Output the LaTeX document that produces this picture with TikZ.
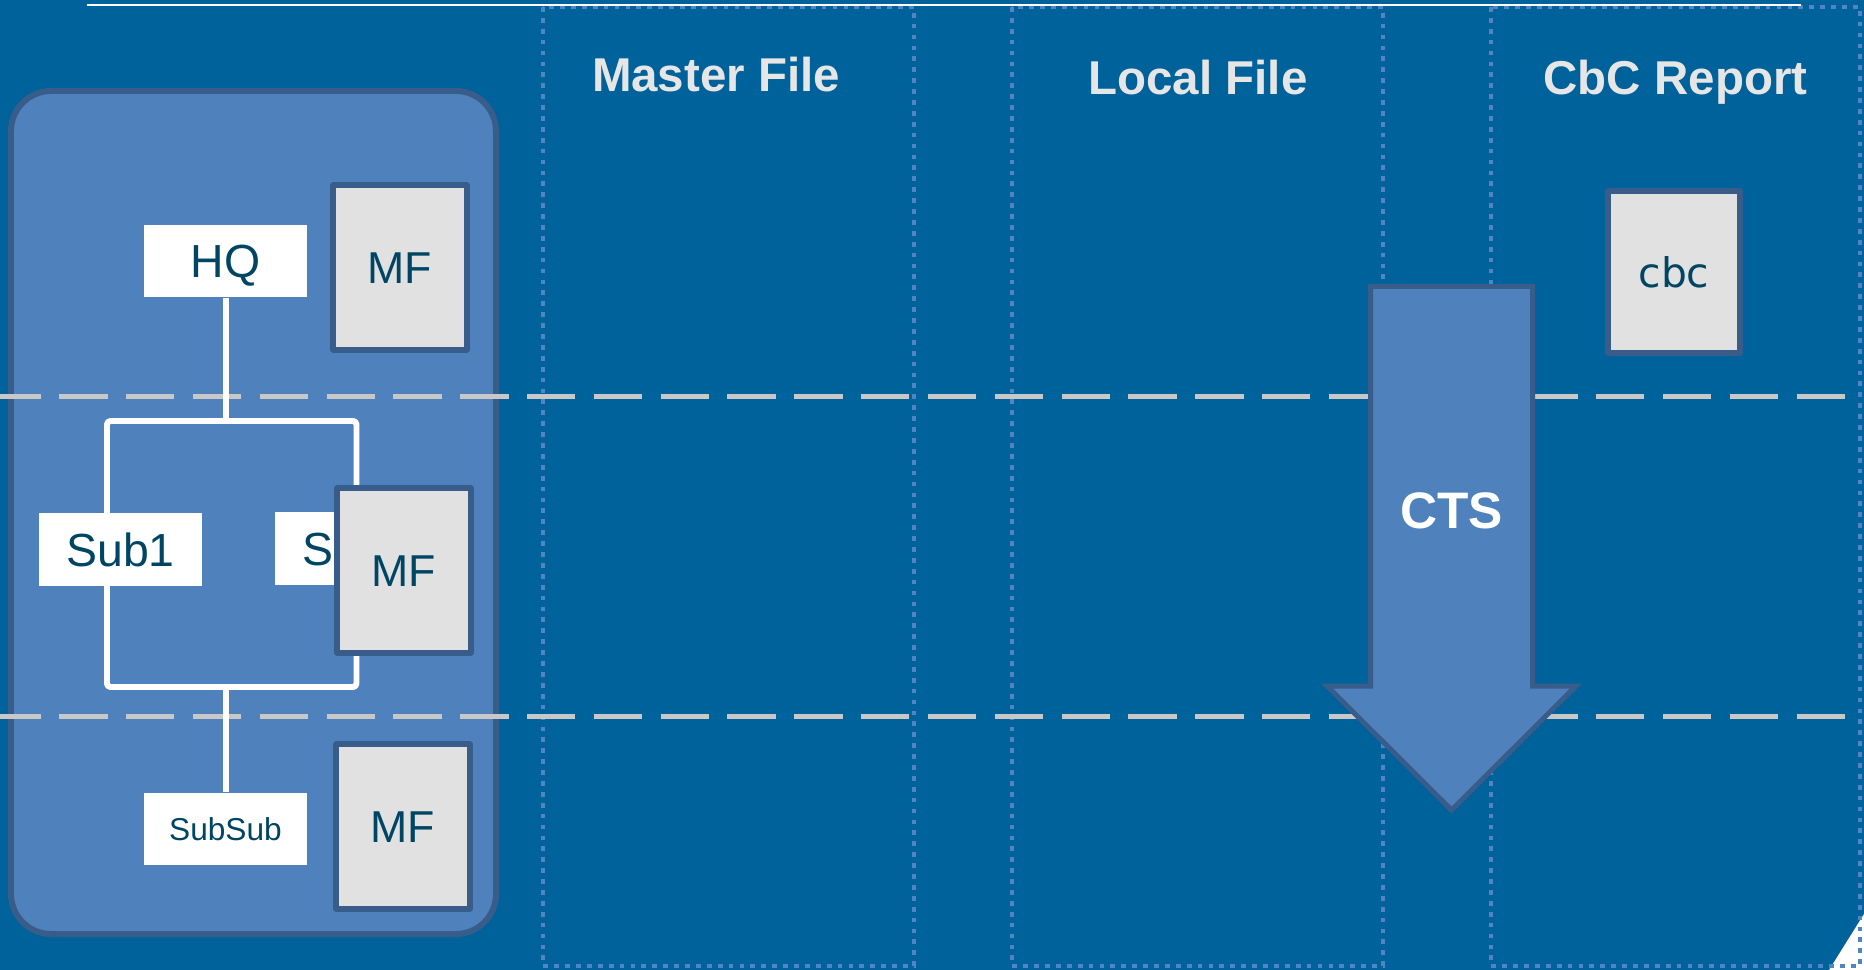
\documentclass[tikz,border=0pt]{standalone}
\usepackage{fontspec}
\setmainfont{Liberation Sans}
\newfontfamily\cbcfont{DejaVu Sans}
\definecolor{bg}{HTML}{00629B}
\definecolor{boxblue}{HTML}{4F81BD}
\definecolor{frame}{HTML}{385D8A}
\definecolor{docgrey}{HTML}{E1E1E1}
\definecolor{ink}{HTML}{004563}
\definecolor{dashgrey}{HTML}{C8C8C8}
\definecolor{dotblue}{HTML}{5283C2}
\definecolor{hdrgrey}{HTML}{E6E6E6}
\begin{document}
\begin{tikzpicture}[x=0.01cm, y=-0.01cm,
  colframe/.style={draw=dotblue, line width=1.35pt, dash pattern=on 1.35pt off 1.75pt},
  sepline/.style={draw=dashgrey, line width=1.56pt, dash pattern=on 13.74pt off 5.26pt},
  tree/.style={draw=white, line width=1.7pt, line join=round},
  wbox/.style={fill=white, inner sep=0pt, minimum width=1.63cm, minimum height=0.72cm,
    text=ink, text height=9.45pt, text depth=0pt, font=\fontsize{13.2}{15}\selectfont},
  doc/.style={fill=docgrey, draw=frame, line width=1.7pt, line join=round, inner sep=0pt,
    minimum width=1.33cm, minimum height=1.64cm, text=ink, text height=9.1pt,
    text depth=0pt, font=\fontsize{12.7}{15}\selectfont},
  hdr/.style={text=hdrgrey, inner sep=0pt, anchor=base, font=\bfseries\fontsize{13.5}{16}\selectfont}
]
% canvas
\useasboundingbox (0,0) rectangle (1864,970);
\fill[bg] (0,0) rectangle (1864,970);
\fill[white] (1829,970) -- (1864,914) -- (1864,970) -- cycle;

% dotted column frames
\draw[colframe] (543,7) rectangle (914,966);
\draw[colframe] (1012,7) rectangle (1383,966);
\draw[colframe] (1491,7) rectangle (1860,966);

% thin rule along the top
\draw[white, line width=0.6pt] (87,5) -- (1801,5);

% group panel
\draw[fill=boxblue, draw=frame, line width=1.7pt, rounded corners=11.4pt] (11,91) rectangle (496,934);

% separators between the levels
\draw[sepline] (-7.5,396.5) -- (1847,396.5);
\draw[sepline] (-7.5,716.5) -- (1847,716.5);

% organisation tree
\coordinate (brtop) at (226,421);
\coordinate (brbot) at (226,687);
\draw[tree, rounded corners=1pt] (107,421) rectangle (356.5,687);

\node[wbox] (hq) at (225.5,261) {HQ};
\node[wbox] (sub1) at (120.5,549.5) {Sub1};
\node[wbox, anchor=west, align=left, inner xsep=0.274cm, text width=1.082cm] (sub2) at (274.6,548.5) {S};
\node[wbox, text height=6.45pt, font=\fontsize{9}{11}\selectfont] (subsub) at (225.5,829) {SubSub};

\draw[tree] (hq.south -| brtop) -- (brtop);
\draw[tree] (brbot) -- (subsub.north -| brbot);

% master file documents
\node[doc] (mfhq) at (400,267.5) {MF};
\node[doc] (mfsub) at (404,570.5) {MF};
\node[doc] (mfsubsub) at (403,826.5) {MF};

% country-by-country report document
\node[doc, minimum height=1.62cm, minimum width=1.32cm, text height=8.75pt,
  font=\cbcfont\fontsize{11.6}{14}\selectfont] (cbc) at (1674,272) {cbc};

% CTS arrow
\draw[fill=boxblue, draw=frame, line width=1.42pt, line join=miter]
  (1370.5,286.5) -- (1532.5,286.5) -- (1532.5,686) -- (1576,686) -- (1451.5,810)
  -- (1327,686) -- (1370.5,686) -- cycle;
\node[text=white, inner sep=0pt, text height=10.45pt, text depth=0pt,
  font=\bfseries\fontsize{14.6}{17}\selectfont] (cts) at (1451.5,510.5) {CTS};

% column headings
\node[hdr] (hdrmaster) at (716,91.5) {Master File};
\node[hdr] (hdrlocal) at (1198,95) {Local File};
\node[hdr] (hdrcbc) at (1675.5,95) {CbC Report};
\end{tikzpicture}
\end{document}
